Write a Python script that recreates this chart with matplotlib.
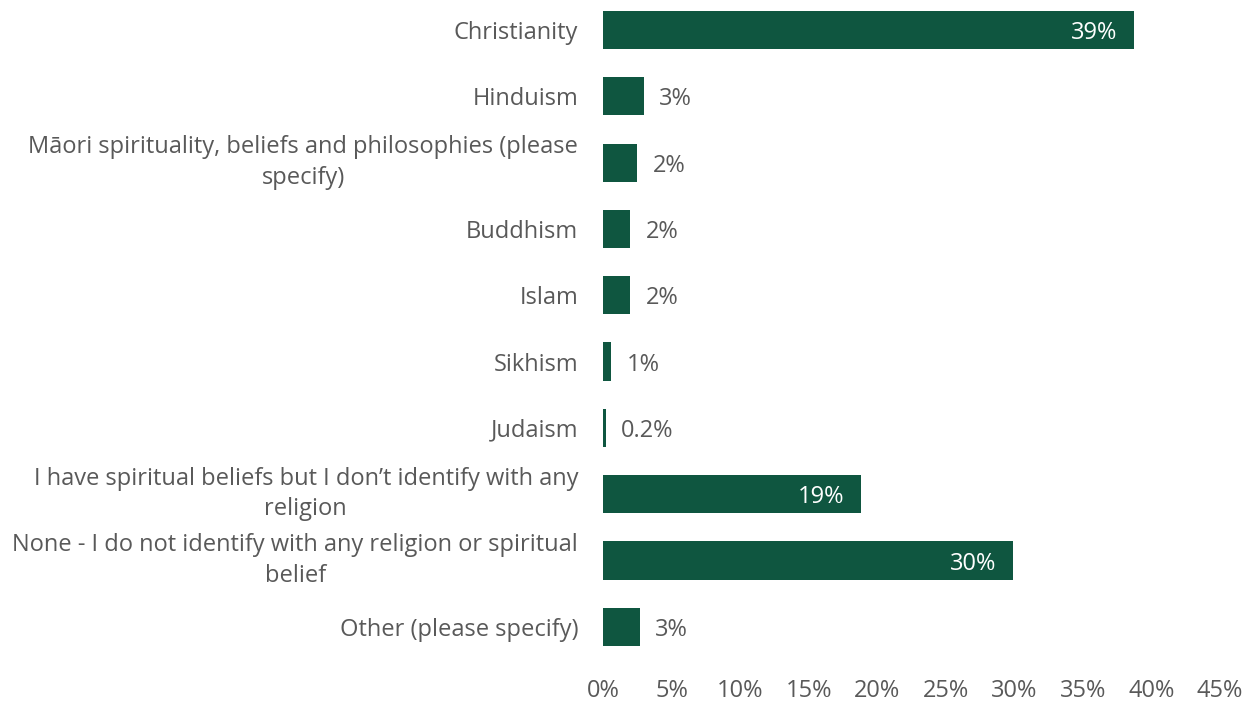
import textwrap
import matplotlib.pyplot as plt
from matplotlib.ticker import MultipleLocator, FuncFormatter

plt.rcParams['font.family'] = ['Open Sans', 'DejaVu Sans']

categories = [
    "Christianity",
    "Hinduism",
    "Māori spirituality, beliefs and philosophies (please specify)",
    "Buddhism",
    "Islam",
    "Sikhism",
    "Judaism",
    "I have spiritual beliefs but I don’t identify with any religion",
    "None - I do not identify with any religion or spiritual belief",
    "Other (please specify)",
]
shares = [38.7, 3.0, 2.5, 2.0, 2.0, 0.6, 0.2, 18.8, 29.9, 2.7]

GREEN = "#0f5640"
GREY = "#595959"
FS = 17

def pct_label(v):
    return f"{v:.1f}%" if v < 0.5 else f"{round(v):.0f}%"

fig = plt.figure(figsize=(12.48, 7.03), dpi=100)
ax = fig.add_axes([0.4832, 0.0612, 0.4944, 0.9388])

ypos = list(range(len(categories)))
ax.barh(ypos, shares, height=0.575, color=GREEN)

for y, v in zip(ypos, shares):
    txt = pct_label(v)
    if v > 10:
        ax.text(v - 1.2, y, txt, ha="right", va="center_baseline", color="white", fontsize=FS)
    else:
        ax.text(v + 1.1, y, txt, ha="left", va="center_baseline", color=GREY, fontsize=FS)

ax.set_ylim(9.5, -0.452)
ax.set_xlim(0, 45)
ax.xaxis.set_major_locator(MultipleLocator(5))
ax.xaxis.set_major_formatter(FuncFormatter(lambda x, _: f"{x:.0f}%"))
ax.set_yticks(ypos)
ax.set_yticklabels([textwrap.fill(c, 55) for c in categories], linespacing=1.35)

ax.tick_params(axis="both", length=0, labelsize=FS, labelcolor=GREY)
ax.tick_params(axis="x", pad=14)
ax.tick_params(axis="y", pad=18)
for lbl in ax.get_yticklabels():
    lbl.set_horizontalalignment("right")
    lbl.set_multialignment("center")
    if "\n" in lbl.get_text():
        lbl.set_verticalalignment("center")
for s in ax.spines.values():
    s.set_visible(False)

fig.savefig("out.png", dpi=100)
